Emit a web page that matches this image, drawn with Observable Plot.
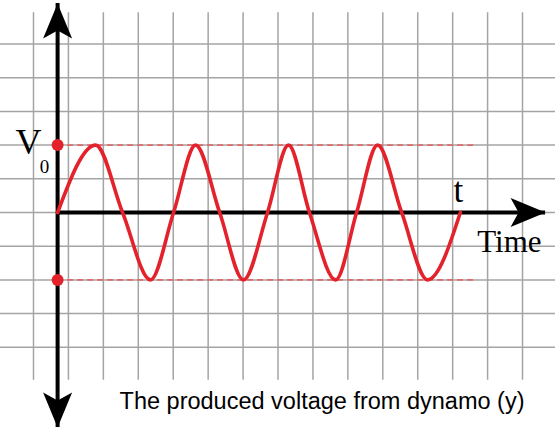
<!DOCTYPE html>
<html>
<head>
<meta charset="utf-8">
<script src="https://cdn.jsdelivr.net/npm/d3@7"></script>
<script src="https://cdn.jsdelivr.net/npm/@observablehq/plot@0.6"></script>
<style>
  html, body { margin: 0; padding: 0; background: #fff; }
  #chart svg { display: block; }
</style>
</head>
<body>
<div id="chart"></div>
<script>
// ---- data (time in grid squares, voltage in grid squares) ----
const time    = [0.69, 1.78, 2.55, 3.35, 4.01, 4.64, 5.33, 6.01, 6.70, 7.30, 7.90, 8.65, 9.25, 9.85, 10.54, 11.28, 12.22];
const voltage = [0, 2, 0, -2, 0, 2, 0, -2, 0, 2, 0, -2, 0, 2, 0, -2, 0];
const peakLevels = [2, -2];              // +V0 and -V0
const gridTimes = [0, 1, 2, 3, 4, 5, 6, 7, 8, 9, 10, 11, 12, 13, 14];
const gridVolts = [-4, -3, -2, -1, 0, 1, 2, 3, 4, 5];
const originTime = 0.69;
const dashEndTime = 12.65;
const timeArrowTip = 14.66;
const voltArrowTop = 6.2;
const voltArrowBottom = -6.38;
const gridTop = 5.93, gridBottom = -4.98;
const labelV = "V", labelSub = "0", labelT = "t", labelTime = "Time";
const caption = "The produced voltage from dynamo (y)";

const wave = time.map((t, i) => ({t, v: voltage[i]}));

// notched arrowhead symbol, tip at the anchor, pointing up
const arrowHead = {
  draw(ctx) {
    ctx.moveTo(0, 0);
    ctx.lineTo(14.5, 35);
    ctx.lineTo(0, 27);
    ctx.lineTo(-14.5, 35);
    ctx.closePath();
  }
};

const red = "#e3222b";
const serif = "'Liberation Serif', 'Times New Roman', serif";
const sans = "'Liberation Sans', Arial, sans-serif";

const chart = Plot.plot({
  width: 555,
  height: 434,
  margin: 0,
  x: {domain: [-0.9447, 14.944], axis: null},
  y: {domain: [-6.588, 6.291], axis: null},
  marks: [
    // grid
    Plot.ruleY(gridVolts, {stroke: "#a4a4a4", strokeWidth: 1.5}),
    Plot.ruleX(gridTimes, {y1: gridBottom, y2: gridTop, stroke: "#a4a4a4", strokeWidth: 1.5}),
    // dashed V0 levels
    Plot.ruleY(peakLevels, {x1: originTime, x2: dashEndTime, stroke: "#e06a6a", strokeWidth: 1.6, strokeDasharray: "6,4"}),
    // axes
    Plot.ruleX([originTime], {y1: voltArrowBottom, y2: voltArrowTop, stroke: "#000", strokeWidth: 4}),
    Plot.ruleY([0], {x1: originTime, x2: timeArrowTip, stroke: "#000", strokeWidth: 4}),
    Plot.dot([{x: originTime, y: voltArrowTop, r: 0}, {x: originTime, y: voltArrowBottom, r: 180}, {x: timeArrowTip, y: 0, r: 90}],
      {x: "x", y: "y", rotate: "r", symbol: arrowHead, fill: "#000", stroke: "none"}),
    // wave
    Plot.line(wave, {x: "t", y: "v", curve: "monotone-x", stroke: red, strokeWidth: 3.6}),
    // V0 markers
    Plot.dot(peakLevels, {x: originTime, y: d => d, r: 6, fill: red, stroke: "none"}),
    // labels
    Plot.text([peakLevels[0]], {x: originTime, y: d => d, text: () => labelV, dx: -29, dy: 9, lineAnchor: "bottom", fontFamily: serif, fontSize: 36, fill: "#000"}),
    Plot.text([peakLevels[0]], {x: originTime, y: d => d, text: () => labelSub, dx: -13, dy: 28, lineAnchor: "bottom", fontFamily: serif, fontSize: 19, fill: "#000"}),
    Plot.text([0], {x: time[time.length - 1], y: d => d, text: () => labelT, dx: -2, dy: -10, lineAnchor: "bottom", fontFamily: serif, fontSize: 35, fill: "#000"}),
    Plot.text([0], {x: timeArrowTip, y: d => d, text: () => labelTime, textAnchor: "end", dx: -4, dy: 40, lineAnchor: "bottom", fontFamily: serif, fontSize: 31, fill: "#000"}),
    Plot.text([caption], {frameAnchor: "bottom", text: d => d, dx: 44, dy: -26, lineAnchor: "bottom", fontFamily: sans, fontSize: 23.5, fill: "#000"})
  ]
});
document.getElementById("chart").appendChild(chart);
</script>
</body>
</html>
